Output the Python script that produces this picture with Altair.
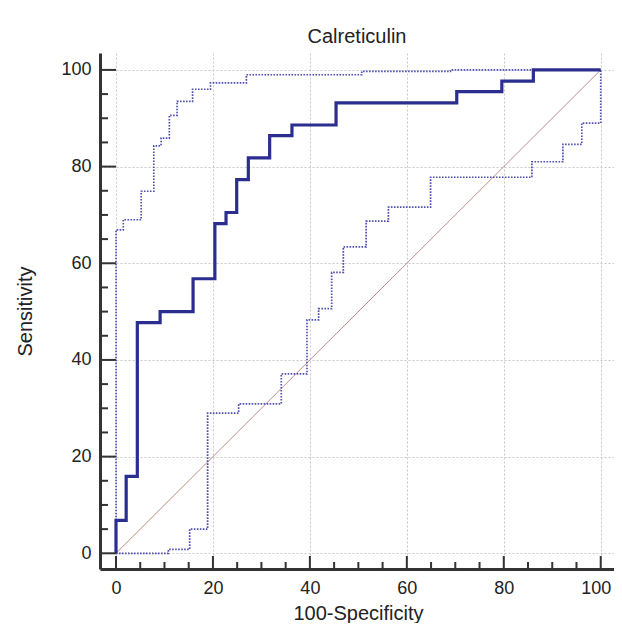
import altair as alt
import pandas as pd

chart_title = "Calreticulin"
x_title = "100-Specificity"
y_title = "Sensitivity"

# ROC curve (step vertices, step-after)
roc_fpr = [0, 0, 2.1, 4.4, 9.1, 15.9, 20.4, 22.7, 24.9, 27.3, 31.7, 36.3, 45.4, 70.3, 79.6, 86.1, 100]
roc_sens = [0, 6.8, 15.9, 47.7, 50.0, 56.8, 68.2, 70.5, 77.3, 81.8, 86.4, 88.6, 93.2, 95.5, 97.7, 100, 100]

# upper confidence bound
hi_fpr = [0, 0, 1.5, 5.2, 7.8, 9.3, 11.0, 12.6, 15.8, 19.5, 26.9, 50.7, 69.0, 100]
hi_sens = [0, 66.9, 69.0, 74.9, 84.3, 85.9, 90.6, 93.5, 96.0, 97.3, 99.0, 99.7, 100, 100]

# lower confidence bound
lo_fpr = [0, 10.8, 15.2, 18.9, 25.3, 34.1, 39.4, 41.8, 44.5, 46.9, 51.6, 56.2, 64.9, 85.8, 92.2, 96.1, 100]
lo_sens = [0, 0.8, 5.0, 29.0, 30.9, 37.1, 48.3, 50.6, 58.1, 63.4, 68.7, 71.6, 77.8, 81.0, 84.6, 89.0, 100]

# reference diagonal
diag_x = [0, 100]
diag_y = [0, 100]

major_ticks = [0, 20, 40, 60, 80, 100]
minor_ticks = [5, 10, 15, 25, 30, 35, 45, 50, 55, 65, 70, 75, 85, 90, 95]

W, H = 514, 516
FONT = "Liberation Sans"
AXIS_COLOR = "#333333"
TEXT_COLOR = "#222222"

xs = alt.Scale(domain=[-3.3, 102.74], nice=False, zero=False)
ys = alt.Scale(domain=[-3.25, 103.5], nice=False, zero=False)

common_axis = dict(
    values=major_ticks, grid=True, gridColor="#c8c8c8", gridDash=[2, 2], gridWidth=1,
    domain=True, domainColor=AXIS_COLOR, domainWidth=3, ticks=False,
    labelFontSize=18, labelFont=FONT, labelColor=TEXT_COLOR, format="d",
    titleFontSize=20, titleFont=FONT, titleFontWeight="normal", titleColor=TEXT_COLOR,
    titleBaseline="alphabetic",
)
xaxis = alt.Axis(
    title=x_title, labelPadding=10, titleX=258, titleY=50,
    labelOffset={"condition": {"test": "datum.value == 100", "value": -5}, "value": 0},
    **common_axis,
)
yaxis = alt.Axis(title=y_title, labelPadding=9, titleX=-69, titleY=H / 2, titleAngle=270, **common_axis)


def frame(xv, yv):
    return pd.DataFrame({"x": xv, "y": yv, "i": list(range(len(xv)))})


def enc(chart):
    return chart.encode(
        x=alt.X("x:Q", scale=xs, axis=xaxis),
        y=alt.Y("y:Q", scale=ys, axis=yaxis),
        order="i:O",
    )


diag = enc(alt.Chart(frame(diag_x, diag_y)).mark_line(color="#c48a88", strokeWidth=1))
hi = enc(alt.Chart(frame(hi_fpr, hi_sens)).mark_line(
    color="#5050b0", strokeWidth=1.7, strokeDash=[1.6, 1.4], interpolate="step-after"))
lo = enc(alt.Chart(frame(lo_fpr, lo_sens)).mark_line(
    color="#5050b0", strokeWidth=1.7, strokeDash=[1.6, 1.4], interpolate="step-after"))
roc = enc(alt.Chart(frame(roc_fpr, roc_sens)).mark_line(
    color="#2b2e8e", strokeWidth=3.2, interpolate="step-after"))

# inward axis ticks
xmaj = alt.Chart(pd.DataFrame({"x": major_ticks})).mark_rule(color=AXIS_COLOR, strokeWidth=2).encode(
    x=alt.X("x:Q", scale=xs, axis=xaxis), y=alt.value(H), y2=alt.value(H - 13))
xmin = alt.Chart(pd.DataFrame({"x": minor_ticks})).mark_rule(color=AXIS_COLOR, strokeWidth=2).encode(
    x=alt.X("x:Q", scale=xs, axis=xaxis), y=alt.value(H), y2=alt.value(H - 7))
ymaj = alt.Chart(pd.DataFrame({"y": major_ticks})).mark_rule(color=AXIS_COLOR, strokeWidth=2).encode(
    y=alt.Y("y:Q", scale=ys, axis=yaxis), x=alt.value(0), x2=alt.value(16))
ymin = alt.Chart(pd.DataFrame({"y": minor_ticks})).mark_rule(color=AXIS_COLOR, strokeWidth=2).encode(
    y=alt.Y("y:Q", scale=ys, axis=yaxis), x=alt.value(0), x2=alt.value(8))

chart = alt.layer(diag, hi, lo, roc, xmaj, xmin, ymaj, ymin).properties(
    width=W, height=H,
    title=alt.TitleParams(chart_title, fontSize=20, font=FONT, fontWeight="normal", color=TEXT_COLOR,
                          anchor="middle", baseline="alphabetic", offset=10, dy=20),
    autosize=alt.AutoSizeParams(type="none"),
    padding={"left": 92, "top": 45, "right": 0, "bottom": 54},
    background="white",
).configure_view(stroke=None)

chart.save("out.html", embed_options={"renderer": "svg", "actions": False})
